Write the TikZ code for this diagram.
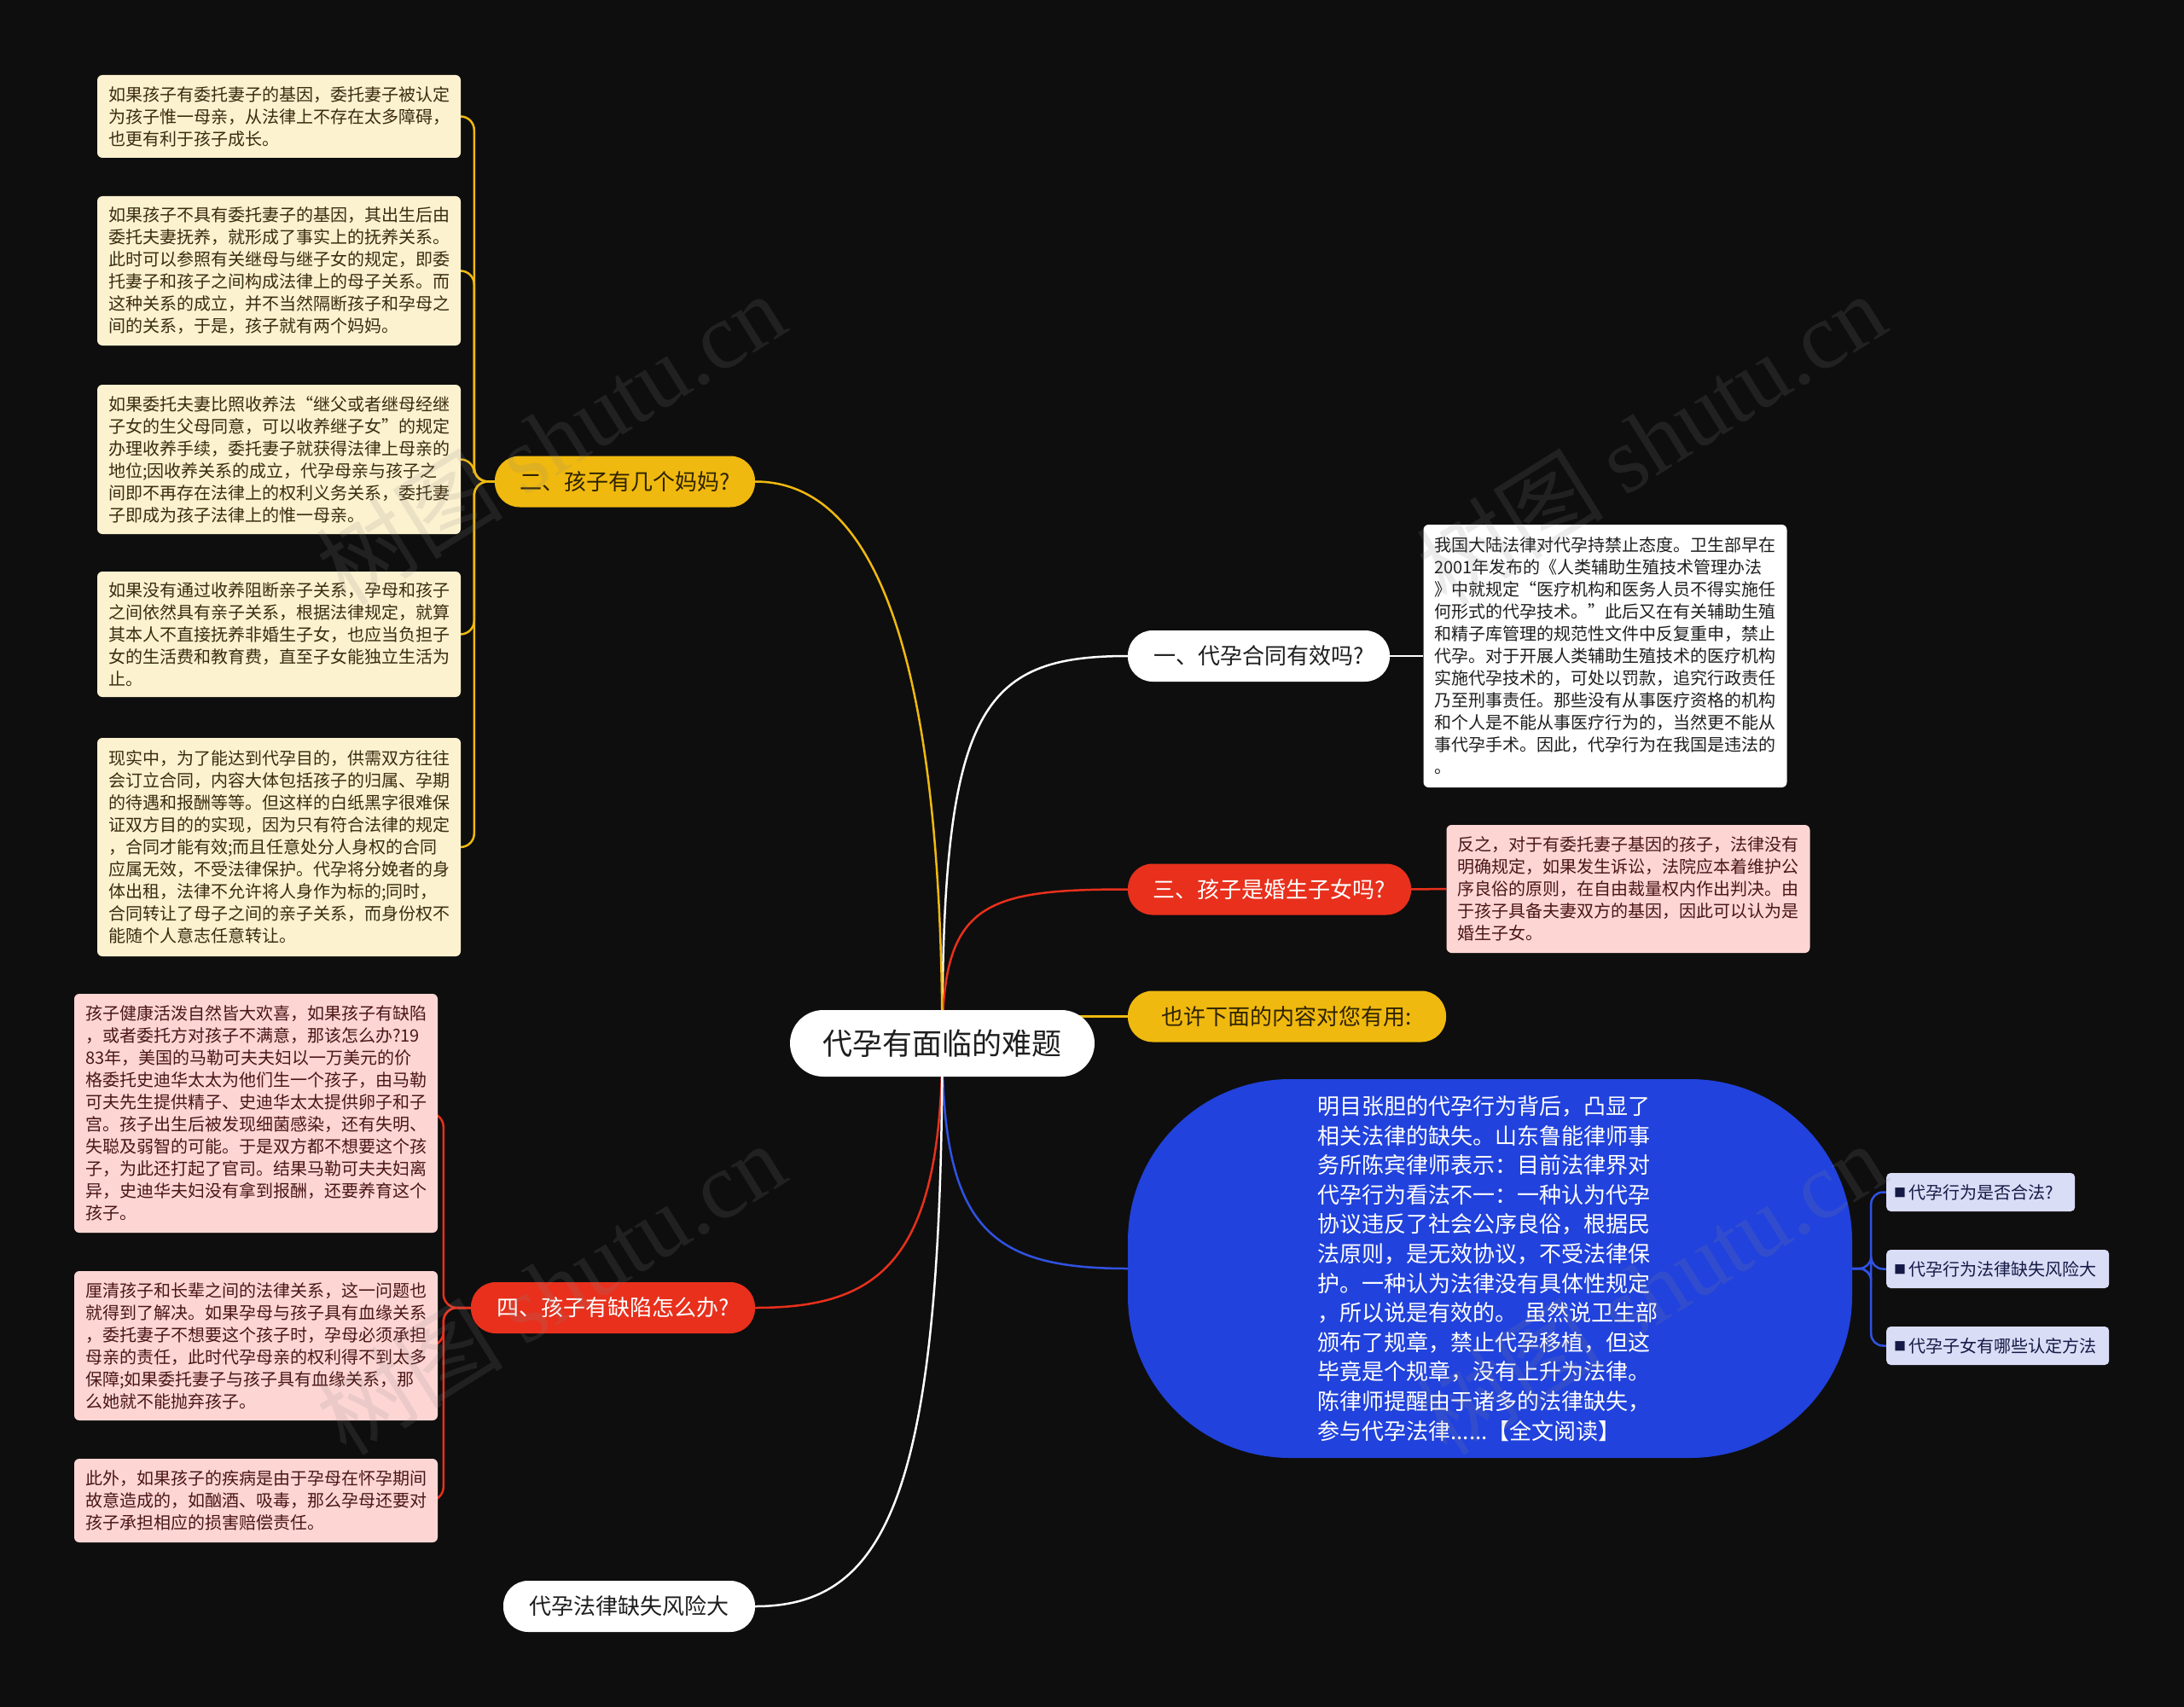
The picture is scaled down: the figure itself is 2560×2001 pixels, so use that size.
\documentclass[tikz,border=0pt]{standalone}
\usepackage{fontspec}
\setmainfont{Noto Sans CJK SC}
\newfontfamily\wmserif{Liberation Serif}
\usetikzlibrary{backgrounds}
\definecolor{bgc}{HTML}{0E0E0E}
\definecolor{yel}{HTML}{F0B90F}
\definecolor{redc}{HTML}{E8301C}
\definecolor{bluec}{HTML}{2142DC}
\definecolor{bline}{HTML}{3152E2}
\definecolor{cream}{HTML}{FDF2D0}
\definecolor{creamtext}{HTML}{3A2C10}
\definecolor{pink}{HTML}{FDD6D4}
\definecolor{pinktext}{HTML}{4A1616}
\definecolor{lav}{HTML}{DADDF6}
\definecolor{lavtext}{HTML}{141A45}
\definecolor{darktext}{HTML}{1E1E1E}
\definecolor{yeltext}{HTML}{2E2300}
\definecolor{wmgray}{HTML}{8A8A8A}
\begin{document}
\begin{tikzpicture}[x=1pt,y=-1pt,
  every node/.style={inner sep=0pt},
  conn/.style={line width=2.5pt},
  pillbase/.style={rounded corners=29pt, minimum height=60pt, inner xsep=8pt, font=\fontsize{26}{30}\selectfont},
  pillwhite/.style={pillbase, fill=white, text=darktext},
  pillyel/.style={pillbase, fill=yel, text=yeltext},
  pillred/.style={pillbase, fill=redc, text=white},
  tbox/.style={rounded corners=6pt, text width=400pt, inner xsep=13pt, inner ysep=4pt, align=left, font=\fontsize{20}{26}\selectfont},
  cbox/.style={tbox, fill=cream, text=creamtext},
  pbox/.style={tbox, fill=pink, text=pinktext},
  wbox/.style={tbox, fill=white, text=darktext},
  lbox/.style={fill=lav, text=lavtext, rounded corners=5pt, minimum height=45pt, inner xsep=9pt, align=left, font=\fontsize{20}{24}\selectfont, anchor=west},
  sq/.style={},
  wm/.style={rotate=32, text=wmgray, text opacity=0.16, font=\fontsize{110}{110}\selectfont}
]
\useasboundingbox (0,0) rectangle (2560,2001);

% root
\node[fill=white, text=darktext, rounded corners=39pt, minimum width=357pt, minimum height=78pt, font=\fontsize{35}{40}\selectfont] (root) at (1104.5,1223) {代孕有面临的难题};

% main branches
\node[pillwhite, minimum width=307pt] (n1) at (1475.5,769) {一、代孕合同有效吗?};
\node[pillred, minimum width=332pt] (n3) at (1488,1042.5) {三、孩子是婚生子女吗?};
\node[pillyel, minimum width=373pt] (ye) at (1508.5,1191.5) {也许下面的内容对您有用:};
\node[pillyel, minimum width=305pt] (n2) at (732.5,564.5) {二、孩子有几个妈妈?};
\node[pillred, minimum width=333pt] (n4) at (718.5,1533) {四、孩子有缺陷怎么办?};
\node[pillwhite, minimum width=295pt] (n5) at (737.5,1883) {代孕法律缺失风险大};

% blue block
\node[fill=bluec, text=white, rounded corners=190pt, minimum width=849pt, minimum height=444pt, text width=404pt, align=left, font=\fontsize{26}{34.6}\selectfont] (bl) at (1746.5,1487) {明目张胆的代孕行为背后，凸显了\\相关法律的缺失。山东鲁能律师事\\务所陈宾律师表示：目前法律界对\\代孕行为看法不一：一种认为代孕\\协议违反了社会公序良俗，根据民\\法原则，是无效协议，不受法律保\\护。一种认为法律没有具体性规定\\，所以说是有效的。 虽然说卫生部\\颁布了规章，禁止代孕移植，但这\\毕竟是个规章，没有上升为法律。\\陈律师提醒由于诸多的法律缺失，\\参与代孕法律......【全文阅读】};

% lavender leaves
\node[lbox, text width=203pt] (l1) at (2211,1397.5) {\mbox{\raisebox{2pt}{\fontsize{14}{14}\selectfont ■}\,代孕行为是否合法?}};
\node[lbox, text width=243pt] (l2) at (2211,1487.5) {\mbox{\raisebox{2pt}{\fontsize{14}{14}\selectfont ■}\,代孕行为法律缺失风险大}};
\node[lbox, text width=243pt] (l3) at (2211,1577.5) {\mbox{\raisebox{2pt}{\fontsize{14}{14}\selectfont ■}\,代孕子女有哪些认定方法}};

% right text boxes
\node[wbox, minimum height=308pt] (r1) at (1881.5,769) {我国大陆法律对代孕持禁止态度。卫生部早在\\2001年发布的《人类辅助生殖技术管理办法\\》中就规定“医疗机构和医务人员不得实施任\\何形式的代孕技术。”此后又在有关辅助生殖\\和精子库管理的规范性文件中反复重申，禁止\\代孕。对于开展人类辅助生殖技术的医疗机构\\实施代孕技术的，可处以罚款，追究行政责任\\乃至刑事责任。那些没有从事医疗资格的机构\\和个人是不能从事医疗行为的，当然更不能从\\事代孕手术。因此，代孕行为在我国是违法的\\。};
\node[pbox, minimum height=150pt] (r2) at (1908.5,1042) {反之，对于有委托妻子基因的孩子，法律没有\\明确规定，如果发生诉讼，法院应本着维护公\\序良俗的原则，在自由裁量权内作出判决。由\\于孩子具备夫妻双方的基因，因此可以认为是\\婚生子女。};

% left cream boxes
\node[cbox, minimum height=97pt] (a1) at (327,136.5) {如果孩子有委托妻子的基因，委托妻子被认定\\为孩子惟一母亲，从法律上不存在太多障碍，\\也更有利于孩子成长。};
\node[cbox, minimum height=175pt] (a2) at (327,317.5) {如果孩子不具有委托妻子的基因，其出生后由\\委托夫妻抚养，就形成了事实上的抚养关系。\\此时可以参照有关继母与继子女的规定，即委\\托妻子和孩子之间构成法律上的母子关系。而\\这种关系的成立，并不当然隔断孩子和孕母之\\间的关系，于是，孩子就有两个妈妈。};
\node[cbox, minimum height=175pt] (a3) at (327,538.5) {如果委托夫妻比照收养法“继父或者继母经继\\子女的生父母同意，可以收养继子女”的规定\\办理收养手续，委托妻子就获得法律上母亲的\\地位;因收养关系的成立，代孕母亲与孩子之\\间即不再存在法律上的权利义务关系，委托妻\\子即成为孩子法律上的惟一母亲。};
\node[cbox, minimum height=147pt] (a4) at (327,743.5) {如果没有通过收养阻断亲子关系，孕母和孩子\\之间依然具有亲子关系，根据法律规定，就算\\其本人不直接抚养非婚生子女，也应当负担子\\女的生活费和教育费，直至子女能独立生活为\\止。};
\node[cbox, minimum height=256pt] (a5) at (327,993) {现实中，为了能达到代孕目的，供需双方往往\\会订立合同，内容大体包括孩子的归属、孕期\\的待遇和报酬等等。但这样的白纸黑字很难保\\证双方目的的实现，因为只有符合法律的规定\\，合同才能有效;而且任意处分人身权的合同\\应属无效，不受法律保护。代孕将分娩者的身\\体出租，法律不允许将人身作为标的;同时，\\合同转让了母子之间的亲子关系，而身份权不\\能随个人意志任意转让。};

% left pink boxes
\node[pbox, minimum height=280pt] (b1) at (300,1305) {孩子健康活泼自然皆大欢喜，如果孩子有缺陷\\，或者委托方对孩子不满意，那该怎么办?19\\83年，美国的马勒可夫夫妇以一万美元的价\\格委托史迪华太太为他们生一个孩子，由马勒\\可夫先生提供精子、史迪华太太提供卵子和子\\宫。孩子出生后被发现细菌感染，还有失明、\\失聪及弱智的可能。于是双方都不想要这个孩\\子，为此还打起了官司。结果马勒可夫夫妇离\\异，史迪华夫妇没有拿到报酬，还要养育这个\\孩子。};
\node[pbox, minimum height=175pt] (b2) at (300,1577.5) {厘清孩子和长辈之间的法律关系，这一问题也\\就得到了解决。如果孕母与孩子具有血缘关系\\，委托妻子不想要这个孩子时，孕母必须承担\\母亲的责任，此时代孕母亲的权利得不到太多\\保障;如果委托妻子与孩子具有血缘关系，那\\么她就不能抛弃孩子。};
\node[pbox, minimum height=98pt] (b3) at (300,1759) {此外，如果孩子的疾病是由于孕母在怀孕期间\\故意造成的，如酗酒、吸毒，那么孕母还要对\\孩子承担相应的损害赔偿责任。};

% connectors
\begin{scope}[on background layer]
\fill[bgc] (0,0) rectangle (2560,2001);
\draw[conn, white] (root.center) .. controls (1104,830) and (1150,769) .. (n1.west);
\draw[conn, redc] (root.center) .. controls (1104,1060) and (1150,1042.5) .. (n3.west);
\draw[conn, yel] (root.center |- ye.west) -- (ye.west);
\draw[conn, bline] (root.center) .. controls (1104,1440) and (1160,1487) .. (bl.west);
\draw[conn, yel] (root.center) .. controls (1104,700) and (1000,564.5) .. (n2.east);
\draw[conn, redc] (root.center) .. controls (1104,1480) and (1030,1533) .. (n4.east);
\draw[conn, white] (root.center) .. controls (1104,1750) and (1040,1883) .. (n5.east);
\draw[conn, white] (n1.east) -- (r1.west);
\draw[conn, redc] (n3.east) -- (r2.west);
\foreach \t in {a1,a2,a3,a4,a5}
  \draw[conn, yel, rounded corners=16pt] (n2.west) -- ++(-24,0) |- (\t.east);
\foreach \t in {b1,b2,b3}
  \draw[conn, redc, rounded corners=16pt] (n4.west) -- ++(-32,0) |- (\t.east);
\foreach \t in {l1,l2,l3}
  \draw[conn, bline, rounded corners=14pt] (bl.east) -- ++(22,0) |- (\t.west);
\end{scope}

% watermarks
\node[wm] (w1) at (645,514) {树图 {\wmserif shutu.cn}};
\node[wm] (w2) at (1935,514) {树图 {\wmserif shutu.cn}};
\node[wm] (w3) at (645,1510) {树图 {\wmserif shutu.cn}};
\node[wm] (w4) at (1935,1510) {树图 {\wmserif shutu.cn}};
\end{tikzpicture}
\end{document}
